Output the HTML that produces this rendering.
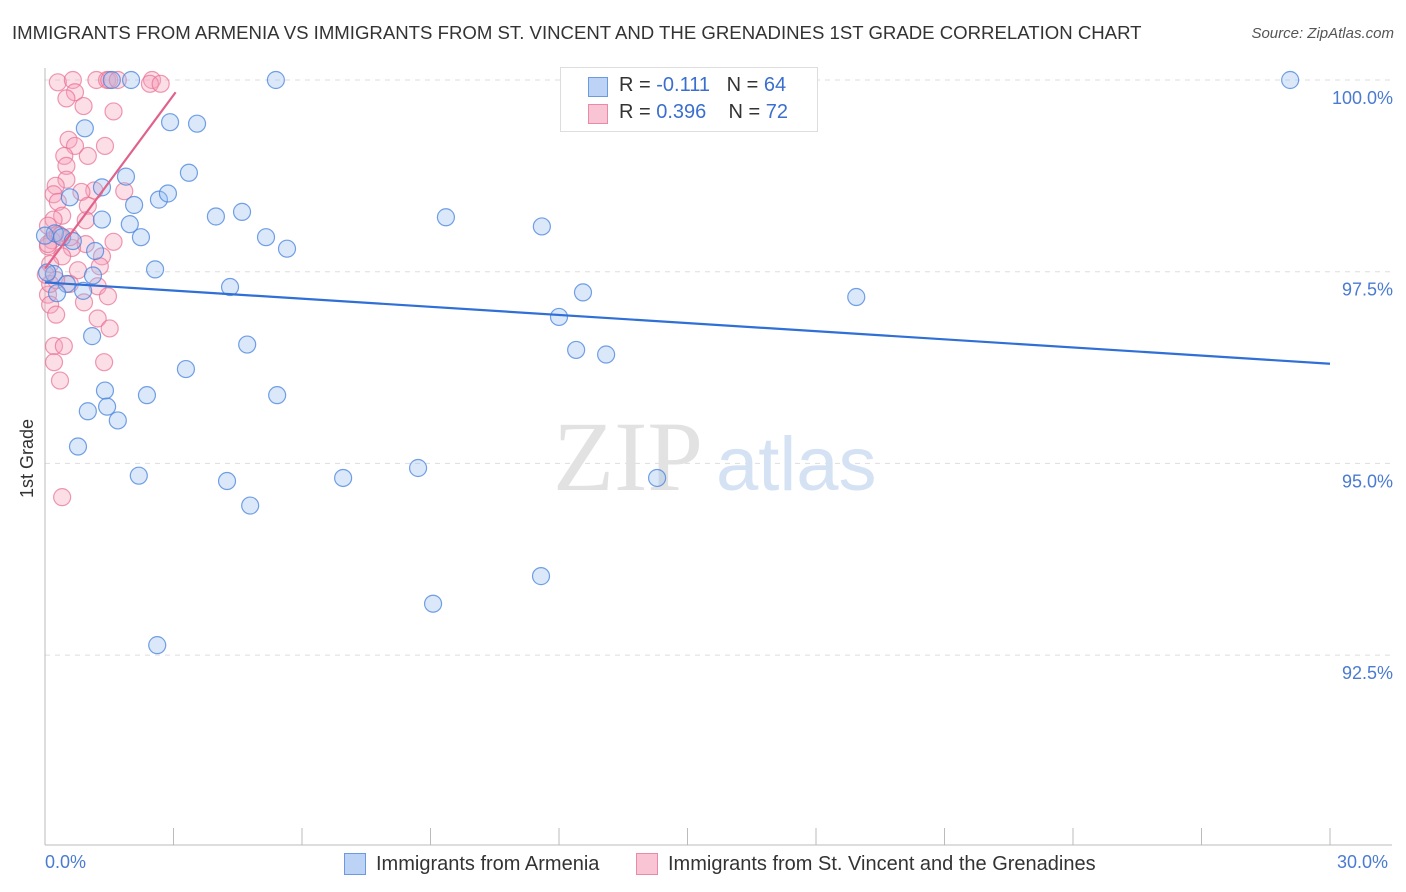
<!DOCTYPE html>
<html><head><meta charset="utf-8">
<style>
body{margin:0;background:#fff;font-family:"Liberation Sans",sans-serif;}
#wrap{position:relative;width:1406px;height:892px;overflow:hidden;}
.t{position:absolute;white-space:nowrap;}
</style></head><body>
<div id="wrap">
<div class="t" style="left:12px;top:22px;font-size:18.6px;color:#333;">IMMIGRANTS FROM ARMENIA VS IMMIGRANTS FROM ST. VINCENT AND THE GRENADINES 1ST GRADE CORRELATION CHART</div>
<div class="t" style="right:12px;top:25px;font-size:15px;color:#555;font-style:italic;">Source: ZipAtlas.com</div>
<svg id="plot" width="1406" height="892" style="position:absolute;left:0;top:0"></svg>
</div>
<script>
const xTicks=[0,3,6,9,12,15,18,21,24,27,30];
const yTicks=[100,97.5,95,92.5];
const yTickLabels=["100.0%","97.5%","95.0%","92.5%"];
const armX=[1.56,2.01,5.39,29.07,0.93,2.92,3.55,3.36,1.89,1.33,0.58,2.08,2.66,2.87,3.99,4.6,9.36,11.6,1.98,1.33,0.23,0.4,0.65,2.24,5.16,5.65,1.17,2.57,0.21,0.51,1.12,0.89,0.28,4.32,12.56,18.94,12.0,1.1,4.72,12.4,13.1,3.29,1.4,2.38,5.42,1.45,1.0,1.7,0.77,2.19,4.25,6.96,8.71,14.29,4.79,11.58,9.06,2.62,0.0,0.05];
const armY=[100,100,100,100,99.37,99.45,99.43,98.79,98.74,98.6,98.47,98.37,98.44,98.52,98.22,98.28,98.21,98.09,98.12,98.18,98.0,97.95,97.9,97.95,97.95,97.8,97.77,97.53,97.47,97.34,97.45,97.25,97.22,97.3,97.23,97.17,96.91,96.66,96.55,96.48,96.42,96.23,95.95,95.89,95.89,95.74,95.68,95.56,95.22,94.84,94.77,94.81,94.94,94.81,94.45,93.53,93.17,92.63,97.97,97.49];
const vinX=[0.3,0.65,1.2,1.45,1.5,2.5,2.45,2.7,0.7,0.5,0.9,1.6,0.55,1.4,0.7,0.45,1.0,0.5,0.5,0.25,1.15,0.2,0.85,1.85,0.3,1.0,0.4,0.2,0.95,0.07,0.3,0.16,0.07,1.6,0.95,0.63,0.4,1.33,0.12,0.77,1.28,1.23,0.58,0.26,0.07,1.47,0.91,0.12,0.26,1.23,1.51,0.21,0.44,0.21,1.38,0.35,0.4,0.07,0.35,0.58,0.12,0.02,1.7];
const vinY=[99.97,100,100,100,100,100,99.95,99.95,99.84,99.76,99.66,99.59,99.22,99.14,99.14,99.01,99.01,98.88,98.7,98.62,98.56,98.51,98.54,98.55,98.41,98.36,98.23,98.18,98.17,98.1,97.99,97.91,97.83,97.89,97.86,97.81,97.7,97.7,97.6,97.52,97.57,97.31,97.34,97.39,97.2,97.18,97.1,97.07,96.94,96.89,96.76,96.53,96.53,96.32,96.32,96.08,94.56,97.86,97.97,97.95,97.34,97.46,100];
const armTrend=[[0,97.36],[30,96.3]];
const vinTrend=[[0,97.54],[3.05,99.84]];
const X=v=>45+v/30*1285;
const Y=v=>80+(100-v)/2.5*191.7;
const svg=document.getElementById('plot');
const NS='http://www.w3.org/2000/svg';
function mk(tag,attrs,parent){const e=document.createElementNS(NS,tag);for(const k in attrs)e.setAttribute(k,attrs[k]);(parent||svg).appendChild(e);return e;}
yTicks.forEach((v,i)=>{
 const g=mk('line',{x1:45,x2:1392,y1:Y(v),y2:Y(v),stroke:'#ddd','stroke-dasharray':'5,5'});
 
 
 const t=mk('text',{x:1393,y:Y(v)+24,'text-anchor':'end','font-size':18,fill:'#4a7bd0','font-family':'Liberation Sans'});
 t.textContent=yTickLabels[i];
 
 
});
const ax=mk('line',{x1:45,x2:45,y1:68,y2:845,stroke:'#bbb'});


const bx=mk('line',{x1:45,x2:1392,y1:845,y2:845,stroke:'#bbb'});


xTicks.forEach(v=>{
 const l=mk('line',{x1:X(v),x2:X(v),y1:828,y2:845,stroke:'#bbb'});
 
 
});
const wm=mk('text',{x:553,y:490,'font-size':100,fill:'#e2e2e2','font-family':'Liberation Serif'});wm.textContent='ZIP';


const wm2=mk('text',{x:716,y:490,'font-size':76,fill:'#d4e2f4','font-family':'Liberation Sans'});wm2.textContent='atlas';


vinX.forEach((x,i)=>{
 const c=mk('circle',{cx:X(x),cy:Y(vinY[i]),r:8.5,fill:'rgba(246,160,185,0.35)',stroke:'rgba(232,110,145,0.7)','stroke-width':1.2});
 
 
});
armX.forEach((x,i)=>{
 const c=mk('circle',{cx:X(x),cy:Y(armY[i]),r:8.5,fill:'rgba(150,190,240,0.35)',stroke:'rgba(70,130,220,0.75)','stroke-width':1.2});
 
 
});
const tl1=mk('line',{x1:X(armTrend[0][0]),y1:Y(armTrend[0][1]),x2:X(armTrend[1][0]),y2:Y(armTrend[1][1]),stroke:'#2f6fd6','stroke-width':2.2});


const tl2=mk('line',{x1:X(vinTrend[0][0]),y1:Y(vinTrend[0][1]),x2:X(vinTrend[1][0]),y2:Y(vinTrend[1][1]),stroke:'#e0628a','stroke-width':2.2});


</script>
<div class="t" style="left:17px;top:498px;font-size:18px;color:#333;transform:rotate(-90deg);transform-origin:left top;">1st Grade</div>
<div class="t" style="left:45px;top:852px;font-size:18px;color:#4a7bd0;">0.0%</div>
<div class="t" style="left:1337px;top:852px;font-size:18px;color:#4a7bd0;">30.0%</div>
<div style="position:absolute;left:560px;top:67px;width:256px;height:63px;border:1px solid #ddd;background:#fff;font-size:20px;color:#333;">
 <div style="position:absolute;left:27px;top:9px;width:18px;height:18px;background:#bcd3f5;border:1px solid #6a9be0;"></div>
 <div class="t" style="left:58px;top:6px;">R = <span style="color:#3b6fcf">-0.111</span>&nbsp;&nbsp;&nbsp;N = <span style="color:#3b6fcf">64</span></div>
 <div style="position:absolute;left:27px;top:36px;width:18px;height:18px;background:#f9c4d4;border:1px solid #e88aa8;"></div>
 <div class="t" style="left:58px;top:33px;">R = <span style="color:#3b6fcf">0.396</span>&nbsp;&nbsp;&nbsp;&nbsp;N = <span style="color:#3b6fcf">72</span></div>
</div>
<div style="position:absolute;left:344px;top:853px;font-size:20px;color:#333;">
 <div style="position:absolute;left:0;top:0;width:20px;height:20px;background:#bcd3f5;border:1px solid #6a9be0;"></div>
 <div class="t" style="left:32px;top:0;">Immigrants from Armenia</div>
 <div style="position:absolute;left:292px;top:0;width:20px;height:20px;background:#f9c4d4;border:1px solid #e88aa8;"></div>
 <div class="t" style="left:324px;top:0;">Immigrants from St. Vincent and the Grenadines</div>
</div>
</body></html>
